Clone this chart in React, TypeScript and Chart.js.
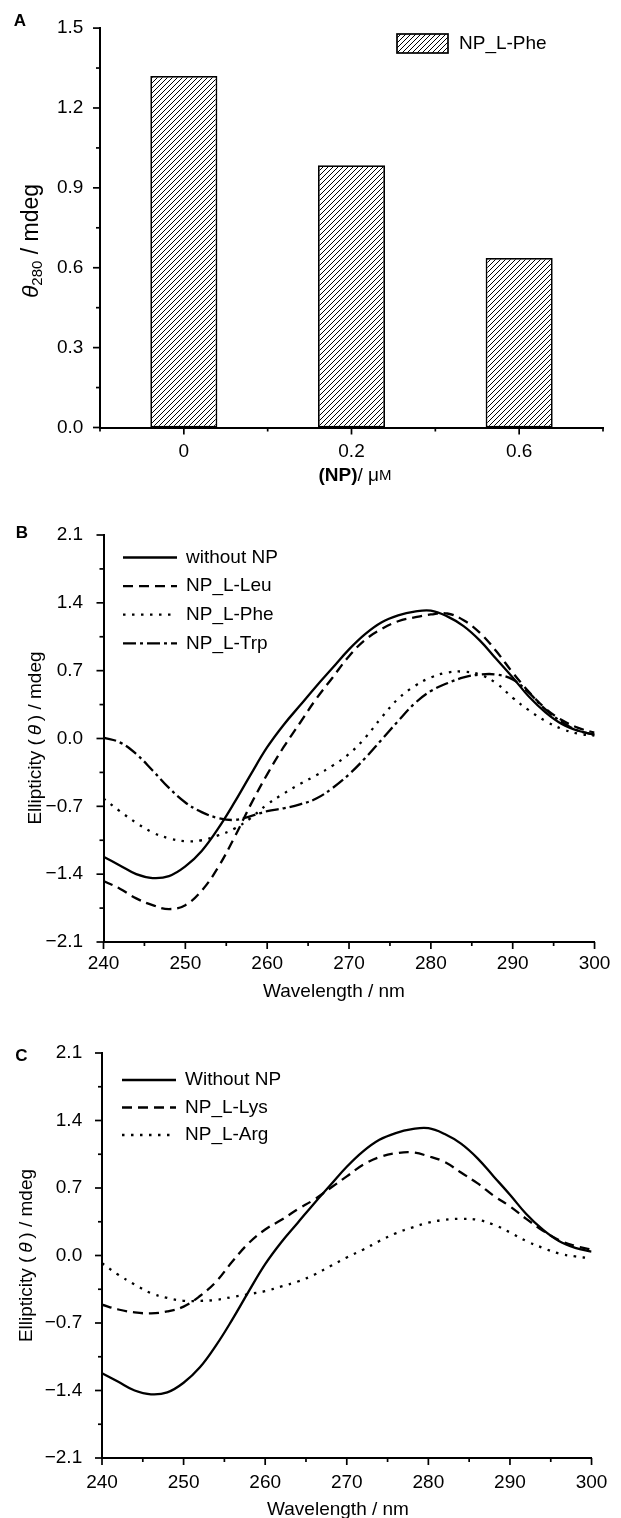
import React, { useEffect, useRef } from 'react';
import { Chart, registerables } from 'chart.js';

Chart.register(...registerables);

const FONT = "'Liberation Sans', Arial, Helvetica, sans-serif";

// ---------- Panel A data ----------
const barCategories = ['0', '0.2', '0.6'];
const barValues = [1.32, 0.985, 0.637];
const barLegend = 'NP_L-Phe';
const yTicksA = [0, 0.3, 0.6, 0.9, 1.2, 1.5];
const yMinorA = [0.15, 0.45, 0.75, 1.05, 1.35];

// ---------- Panels B / C data ----------
const wavelengths = [
  240, 242, 244, 246, 248, 250, 252, 254, 256, 258, 260, 262, 264, 266, 268, 270,
  272, 274, 276, 278, 280, 282, 284, 286, 288, 290, 292, 294, 296, 298, 300,
];
const withoutNP = [
  -1.22, -1.31, -1.4, -1.44, -1.42, -1.32, -1.16, -0.93, -0.66, -0.37, -0.09, 0.14, 0.34, 0.54, 0.73, 0.92,
  1.08, 1.2, 1.27, 1.31, 1.32, 1.26, 1.16, 1.01, 0.82, 0.63, 0.43, 0.27, 0.15, 0.08, 0.04,
];
const npLeu = [
  -1.47, -1.55, -1.65, -1.72, -1.76, -1.72, -1.57, -1.33, -1.02, -0.68, -0.37, -0.09, 0.16, 0.41, 0.63, 0.85,
  1.02, 1.13, 1.21, 1.25, 1.28, 1.29, 1.22, 1.09, 0.9, 0.68, 0.48, 0.31, 0.19, 0.11, 0.06,
];
const npPhe = [
  -0.62, -0.75, -0.87, -0.97, -1.03, -1.06, -1.05, -1.0, -0.93, -0.82, -0.68, -0.57, -0.47, -0.38, -0.28, -0.16,
  0.01, 0.22, 0.41, 0.54, 0.63, 0.68, 0.69, 0.66, 0.57, 0.42, 0.29, 0.18, 0.1, 0.05, 0.03,
];
const npTrp = [
  0.01, -0.04, -0.16, -0.33, -0.51, -0.66, -0.76, -0.82, -0.84, -0.8, -0.75, -0.72, -0.68, -0.62, -0.51, -0.37,
  -0.2, -0.01, 0.18, 0.36, 0.49, 0.57, 0.63, 0.66, 0.66, 0.61, 0.47, 0.3, 0.17, 0.08, 0.04,
];
const npLys = [
  -0.51, -0.56, -0.59, -0.6, -0.58, -0.53, -0.42, -0.27, -0.06, 0.13, 0.27, 0.37, 0.48, 0.58, 0.7, 0.82,
  0.94, 1.02, 1.06, 1.07, 1.03, 0.97, 0.86, 0.75, 0.62, 0.51, 0.38, 0.26, 0.16, 0.1, 0.06,
];
const npArg = [
  -0.08, -0.2, -0.3, -0.39, -0.44, -0.47, -0.47, -0.46, -0.43, -0.4, -0.37, -0.32, -0.27, -0.2, -0.11, -0.02,
  0.06, 0.15, 0.23, 0.29, 0.34, 0.37, 0.38, 0.37, 0.32, 0.24, 0.15, 0.08, 0.02, -0.01, -0.03,
];
const seriesLabelsB = ['without NP', 'NP_L-Leu', 'NP_L-Phe', 'NP_L-Trp'];
const seriesLabelsC = ['Without NP', 'NP_L-Lys', 'NP_L-Arg'];
const xTicksBC = [240, 250, 260, 270, 280, 290, 300];
const xMinorBC = [245, 255, 265, 275, 285, 295];
const yTicksBC = [-2.1, -1.4, -0.7, 0, 0.7, 1.4, 2.1];
const yMinorBC = [-1.75, -1.05, -0.35, 0.35, 1.05, 1.75];

// ---------- styles ----------
const SOLID: number[] = [];
const DASHED = [10, 6];
const DOTTED = [2.5, 6.5];
const DASHDOT = [13, 4, 3, 4];
const LINE_W = 2.3;

type Seg = { t: string; font: string; dy?: number };
type TitleSpec = { segs: Seg[]; x: number; y: number; rotate?: boolean };
type LegendItem = { label: string; dash?: number[]; hatch?: boolean };
type DecorCfg = {
  letter: { text: string; x: number; y: number };
  titles: TitleSpec[];
  xMajor: number[];
  xMinor: number[];
  yMajor: number[];
  yMinor: number[];
  legend: {
    x: number;
    y: number;
    rowH: number;
    sampleW: number;
    sampleH: number;
    textX: number;
    items: LegendItem[];
  };
  pattern?: CanvasPattern | null;
};

function f(size: number, style = '') {
  return `${style} ${size}px ${FONT}`.trim();
}

function drawRich(ctx: CanvasRenderingContext2D, spec: TitleSpec) {
  ctx.save();
  ctx.translate(spec.x, spec.y);
  if (spec.rotate) ctx.rotate(-Math.PI / 2);
  ctx.textBaseline = 'middle';
  ctx.textAlign = 'left';
  ctx.fillStyle = '#000';
  let total = 0;
  const widths = spec.segs.map((s) => {
    ctx.font = s.font;
    const w = ctx.measureText(s.t).width;
    total += w;
    return w;
  });
  let cx = -total / 2;
  spec.segs.forEach((s, i) => {
    ctx.font = s.font;
    ctx.fillText(s.t, cx, s.dy || 0);
    cx += widths[i];
  });
  ctx.restore();
}

function makeDecor(cfg: DecorCfg) {
  return {
    id: 'decor',
    afterDraw(chart: any) {
      const ctx: CanvasRenderingContext2D = chart.ctx;
      const xs = chart.scales.x;
      const ys = chart.scales.y;
      const area = chart.chartArea;
      ctx.save();
      ctx.strokeStyle = '#000';
      ctx.lineWidth = 1.7;
      ctx.setLineDash([]);
      const tick = (x1: number, y1: number, x2: number, y2: number) => {
        ctx.beginPath();
        ctx.moveTo(x1, y1);
        ctx.lineTo(x2, y2);
        ctx.stroke();
      };
      cfg.xMajor.forEach((v) => {
        const px = xs.getPixelForValue(v);
        tick(px, area.bottom, px, area.bottom + 7);
      });
      cfg.xMinor.forEach((v) => {
        const px = xs.getPixelForValue(v);
        tick(px, area.bottom, px, area.bottom + 4);
      });
      cfg.yMajor.forEach((v) => {
        const py = ys.getPixelForValue(v);
        tick(area.left - 7, py, area.left, py);
      });
      cfg.yMinor.forEach((v) => {
        const py = ys.getPixelForValue(v);
        tick(area.left - 4, py, area.left, py);
      });

      // panel letter
      ctx.fillStyle = '#000';
      ctx.font = f(17, 'bold');
      ctx.textAlign = 'center';
      ctx.textBaseline = 'middle';
      ctx.fillText(cfg.letter.text, cfg.letter.x, cfg.letter.y);

      // titles
      cfg.titles.forEach((t) => drawRich(ctx, t));

      // legend
      const lg = cfg.legend;
      lg.items.forEach((it, i) => {
        const cy = lg.y + i * lg.rowH;
        if (it.hatch) {
          ctx.fillStyle = cfg.pattern || '#fff';
          ctx.fillRect(lg.x, cy - lg.sampleH / 2, lg.sampleW, lg.sampleH);
          ctx.lineWidth = 1.7;
          ctx.setLineDash([]);
          ctx.strokeStyle = '#000';
          ctx.strokeRect(lg.x, cy - lg.sampleH / 2, lg.sampleW, lg.sampleH);
        } else {
          ctx.lineWidth = LINE_W;
          ctx.strokeStyle = '#000';
          ctx.setLineDash(it.dash || []);
          ctx.beginPath();
          ctx.moveTo(lg.x, cy);
          ctx.lineTo(lg.x + lg.sampleW, cy);
          ctx.stroke();
          ctx.setLineDash([]);
        }
        ctx.fillStyle = '#000';
        ctx.font = f(19);
        ctx.textAlign = 'left';
        ctx.textBaseline = 'middle';
        ctx.fillText(it.label, lg.textX, cy);
      });
      ctx.restore();
    },
  };
}

function makeHatch(): CanvasPattern | null {
  const c = document.createElement('canvas');
  c.width = 5;
  c.height = 5;
  const g = c.getContext('2d');
  if (!g) return null;
  g.fillStyle = '#fff';
  g.fillRect(0, 0, 5, 5);
  g.strokeStyle = '#000';
  g.lineWidth = 1;
  g.beginPath();
  g.moveTo(0, 5);
  g.lineTo(5, 0);
  g.moveTo(-1, 1);
  g.lineTo(1, -1);
  g.moveTo(4, 6);
  g.lineTo(6, 4);
  g.stroke();
  return g.createPattern(c, 'repeat');
}

const W = 621;

type Box = { H: number; left: number; right: number; top: number; bottom: number };

function baseScales(box: Box, xPad: number, yPad: number, yFmt: (v: number) => string) {
  return {
    x: {
      grid: { display: false, drawTicks: false },
      border: { display: true, color: '#000', width: 2 },
      ticks: { color: '#000', font: { size: 19, family: FONT }, padding: xPad, maxRotation: 0, autoSkip: false },
      afterFit: (s: any) => {
        s.height = box.H - box.bottom;
      },
    },
    y: {
      grid: { display: false, drawTicks: false },
      border: { display: true, color: '#000', width: 2 },
      ticks: {
        color: '#000',
        font: { size: 19, family: FONT },
        padding: yPad,
        callback: (v: any) => yFmt(Number(v)),
      },
      afterFit: (s: any) => {
        s.width = box.left;
      },
    },
  };
}

const fmtSigned = (v: number) => {
  const s = Math.abs(v).toFixed(1);
  return v < -1e-9 ? '\u2212' + s : s;
};

function useChart(build: (canvas: HTMLCanvasElement) => Chart) {
  const ref = useRef<HTMLCanvasElement | null>(null);
  useEffect(() => {
    if (!ref.current) return;
    const chart = build(ref.current);
    return () => chart.destroy();
  }, []);
  return ref;
}

const boxA: Box = { H: 500, left: 100, right: 603, top: 23, bottom: 427.5 };
const boxB: Box = { H: 510, left: 103.5, right: 603.5, top: 35, bottom: 442 };
const boxC: Box = { H: 508, left: 102, right: 602, top: 43, bottom: 448 };

function lineData(vals: number[]) {
  return wavelengths.map((x, i) => ({ x, y: vals[i] }));
}

function lineDataset(label: string, vals: number[], dash: number[]) {
  return {
    label,
    data: lineData(vals),
    borderColor: '#000',
    backgroundColor: '#000',
    borderWidth: LINE_W,
    borderDash: dash,
    pointRadius: 0,
    fill: false,
    tension: 0.4,
  };
}

function lineChart(canvas: HTMLCanvasElement, box: Box, datasets: any[], decor: DecorCfg, xPad: number, yPad: number) {
  const sc: any = baseScales(box, xPad, yPad, fmtSigned);
  sc.x.type = 'linear';
  sc.x.min = 240;
  sc.x.max = 300;
  sc.x.afterBuildTicks = (s: any) => {
    s.ticks = xTicksBC.map((value) => ({ value }));
  };
  sc.x.ticks.callback = (v: any) => String(v);
  sc.y.min = -2.1;
  sc.y.max = 2.1;
  sc.y.afterBuildTicks = (s: any) => {
    s.ticks = yTicksBC.map((value) => ({ value }));
  };
  return new Chart(canvas, {
    type: 'line',
    data: { datasets },
    options: {
      responsive: false,
      animation: false,
      devicePixelRatio: 1,
      layout: { padding: { left: 0, top: box.top, right: W - box.right, bottom: 0 } },
      scales: sc,
      plugins: { legend: { display: false }, tooltip: { enabled: false } },
    },
    plugins: [makeDecor(decor) as any],
  });
}

function PanelA() {
  const ref = useChart((canvas) => {
    const pattern = makeHatch();
    const sc: any = baseScales(boxA, 12.6, 16.7, (v) => v.toFixed(1));
    sc.x.type = 'category';
    sc.y.min = 0;
    sc.y.max = 1.5;
    sc.y.afterBuildTicks = (s: any) => {
      s.ticks = yTicksA.map((value) => ({ value }));
    };
    const idx = barCategories.map((_, i) => i);
    const bounds = [-0.5, ...idx.map((i) => i + 0.5)];
    const decor: DecorCfg = {
      letter: { text: 'A', x: 20, y: 21 },
      titles: [
        {
          segs: [
            { t: '\u03B8', font: f(23, 'italic') },
            { t: '280', font: f(15), dy: 6 },
            { t: ' / mdeg', font: f(23) },
          ],
          x: 32,
          y: 241,
          rotate: true,
        },
        {
          segs: [
            { t: '(NP)', font: f(19, 'bold') },
            { t: '/ \u03BC', font: f(19) },
            { t: 'M', font: f(15) },
          ],
          x: 355,
          y: 476,
        },
      ],
      xMajor: idx,
      xMinor: bounds,
      yMajor: yTicksA,
      yMinor: yMinorA,
      legend: { x: 397, y: 43.5, rowH: 28, sampleW: 51, sampleH: 19, textX: 459, items: [{ label: barLegend, hatch: true }] },
      pattern,
    };
    return new Chart(canvas, {
      type: 'bar',
      data: {
        labels: barCategories,
        datasets: [
          {
            label: barLegend,
            data: barValues,
            backgroundColor: (pattern || '#fff') as any,
            borderColor: '#000',
            borderWidth: 1.8,
            borderSkipped: false,
            categoryPercentage: 1,
            barPercentage: 0.4,
          },
        ],
      },
      options: {
        responsive: false,
        animation: false,
        devicePixelRatio: 1,
        layout: { padding: { left: 0, top: boxA.top, right: W - boxA.right, bottom: 0 } },
        scales: sc,
        plugins: { legend: { display: false }, tooltip: { enabled: false } },
      },
      plugins: [makeDecor(decor) as any],
    });
  });
  return <canvas ref={ref} width={W} height={boxA.H} style={{ position: 'absolute', left: 0, top: 0, width: W, height: boxA.H }} />;
}

function PanelB() {
  const ref = useChart((canvas) => {
    const styles = [SOLID, DASHED, DOTTED, DASHDOT];
    const vals = [withoutNP, npLeu, npPhe, npTrp];
    const datasets = seriesLabelsB.map((l, i) => lineDataset(l, vals[i], styles[i]));
    const decor: DecorCfg = {
      letter: { text: 'B', x: 22, y: 33.5 },
      titles: [
        {
          segs: [
            { t: 'Ellipticity (\u2009', font: f(19) },
            { t: '\u03B8', font: f(19, 'italic') },
            { t: '\u2009) / mdeg', font: f(19) },
          ],
          x: 35.5,
          y: 238,
          rotate: true,
        },
        { segs: [{ t: 'Wavelength / nm', font: f(19) }], x: 334, y: 492 },
      ],
      xMajor: xTicksBC,
      xMinor: xMinorBC,
      yMajor: yTicksBC,
      yMinor: yMinorBC,
      legend: {
        x: 123,
        y: 57.5,
        rowH: 28.6,
        sampleW: 54,
        sampleH: 2,
        textX: 186,
        items: seriesLabelsB.map((l, i) => ({ label: l, dash: styles[i] })),
      },
    };
    return lineChart(canvas, boxB, datasets, decor, 10.6, 20.4);
  });
  return <canvas ref={ref} width={W} height={boxB.H} style={{ position: 'absolute', left: 0, top: 500, width: W, height: boxB.H }} />;
}

function PanelC() {
  const ref = useChart((canvas) => {
    const styles = [SOLID, DASHED, DOTTED];
    const vals = [withoutNP, npLys, npArg];
    const datasets = seriesLabelsC.map((l, i) => lineDataset(l, vals[i], styles[i]));
    const decor: DecorCfg = {
      letter: { text: 'C', x: 21.5, y: 46 },
      titles: [
        {
          segs: [
            { t: 'Ellipticity (\u2009', font: f(19) },
            { t: '\u03B8', font: f(19, 'italic') },
            { t: '\u2009) / mdeg', font: f(19) },
          ],
          x: 27,
          y: 245.5,
          rotate: true,
        },
        { segs: [{ t: 'Wavelength / nm', font: f(19) }], x: 338, y: 500 },
      ],
      xMajor: xTicksBC,
      xMinor: xMinorBC,
      yMajor: yTicksBC,
      yMinor: yMinorBC,
      legend: {
        x: 122,
        y: 70,
        rowH: 27.5,
        sampleW: 54,
        sampleH: 2,
        textX: 185,
        items: seriesLabelsC.map((l, i) => ({ label: l, dash: styles[i] })),
      },
    };
    return lineChart(canvas, boxC, datasets, decor, 13.6, 19.8);
  });
  return <canvas ref={ref} width={W} height={boxC.H} style={{ position: 'absolute', left: 0, top: 1010, width: W, height: boxC.H }} />;
}

export default function App() {
  return (
    <div style={{ position: 'absolute', left: 0, top: 0, width: W, height: 1518, background: '#fff', overflow: 'hidden' }}>
      <PanelA />
      <PanelB />
      <PanelC />
    </div>
  );
}
